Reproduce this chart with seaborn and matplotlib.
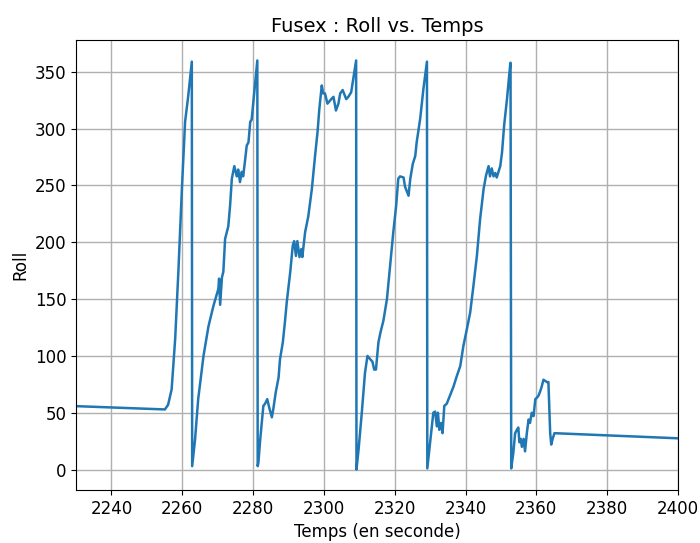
import matplotlib
matplotlib.use("Agg")
import matplotlib.pyplot as plt
import seaborn as sns
import pandas as pd

temps = [2230, 2255.1, 2256, 2257, 2258, 2258.9, 2259.9, 2260.8, 2261.7, 2262.7, 2262.8,
         2263.6, 2264.5, 2266, 2267.4, 2268.8, 2270.2, 2270.4, 2270.7, 2271.2, 2271.6, 2272.1,
         2273, 2273.5, 2274, 2274.7, 2275.4, 2275.8, 2276.3, 2276.8, 2277.2, 2277.7, 2278.2,
         2278.7, 2279.2, 2279.6, 2280.6, 2281.2, 2281.3,
         2281.5, 2282, 2282.9, 2283.4, 2284, 2284.6, 2285.3, 2285.7, 2286.4, 2287.2, 2287.6,
         2288.4, 2289, 2289.5, 2290.5, 2291.2, 2291.6, 2292.1, 2292.5, 2293.1, 2293.6, 2293.9,
         2294.7, 2295.6, 2296.6, 2297.5, 2298.2, 2298.7, 2299.4, 2299.8, 2300.3, 2301, 2301.8,
         2302.7, 2303.4, 2304.1, 2304.6, 2305.3, 2306.3, 2306.9, 2307.7, 2308.3, 2309.1, 2309.2,
         2309.8, 2310.7, 2311.6, 2312.3, 2313.1, 2313.7, 2314.2, 2314.7, 2315.4, 2316, 2316.8,
         2317.8, 2318.7, 2319.6, 2320.4, 2321, 2321.5, 2322.5, 2322.9, 2323.9, 2324.4, 2325.1,
         2325.8, 2326.2, 2327.2, 2328.1, 2329.1, 2329.2,
         2330.0, 2330.9, 2331.4, 2331.9, 2332.2, 2332.6, 2333.1, 2333.5, 2334, 2334.7, 2335.2,
         2335.6, 2336.6, 2337.5, 2338.5, 2339.4, 2340.4, 2341.3, 2342.2, 2343.2, 2344.1, 2345.1,
         2345.8, 2346.5, 2346.9, 2347.4, 2347.9, 2348.4, 2348.8, 2349.3, 2349.8, 2350.3, 2350.9,
         2351.7, 2352.6, 2352.7, 2352.9,
         2353.5, 2354, 2354.5, 2354.9, 2355.2, 2355.6, 2355.9, 2356.4, 2356.8, 2357.3, 2357.8,
         2358.2, 2358.7, 2359.2, 2359.7, 2360.1, 2360.6, 2361.1, 2361.5, 2362, 2363, 2363.4,
         2363.9, 2364.2, 2364.6, 2365.1, 2400]

roll = [55.8, 52.9, 57, 70.5, 115, 174, 247, 306, 329, 359, 3,
        26, 62, 100, 126, 144, 159, 168, 145, 169, 174, 203,
        214, 232, 256, 267, 258, 264, 253, 262, 258, 271, 285,
        288, 306, 308, 341, 360, 3,
        6, 26, 56, 58, 62, 54, 46, 53, 68, 81, 97,
        112, 130, 147, 174, 197, 201, 188, 201, 187, 194, 187,
        209, 223, 247, 276, 297, 317, 338, 331, 331, 322, 325,
        328, 316, 322, 331, 334, 326, 328, 332, 344, 360, 0,
        18, 50, 85, 100, 97, 95, 88, 88, 112, 121, 131,
        150, 179, 209, 232, 256, 258, 257, 249, 241, 256, 269,
        276, 288, 309, 335, 359, 1,
        24, 50, 51, 38, 50, 35, 41, 32, 56, 58, 62,
        65, 73, 82, 91, 109, 124, 138, 161, 188, 220, 247,
        259, 267, 258, 265, 258, 261, 257, 262, 267, 279, 303,
        326, 356, 358, 1,
        15, 32, 35, 37, 24, 27, 20, 27, 16, 32, 44,
        41, 50, 47, 62, 63, 65, 69, 73, 79, 77, 77,
        32, 22, 27, 32, 27.5]

df = pd.DataFrame({"Temps": temps, "Roll": roll})

fig = plt.figure(figsize=(7.0, 5.43), dpi=100)
ax = fig.add_axes([0.1086, 0.0976, 0.86, 0.8287])
sns.lineplot(data=df, x="Temps", y="Roll", ax=ax, sort=False, estimator=None,
             color="#1f77b4", linewidth=1.8)
ax.set_xlim(2230, 2400)
ax.set_ylim(-18, 378)
ax.set_xticks([2240, 2260, 2280, 2300, 2320, 2340, 2360, 2380, 2400])
ax.set_yticks([0, 50, 100, 150, 200, 250, 300, 350])
ax.grid(True, color="#b0b0b0", linewidth=1.0)
ax.set_title("Fusex : Roll vs. Temps", fontsize=14)
ax.set_xlabel("Temps (en seconde)", fontsize=12)
ax.set_ylabel("Roll", fontsize=12)
ax.tick_params(labelsize=12)
fig.savefig("out.png", dpi=100)
